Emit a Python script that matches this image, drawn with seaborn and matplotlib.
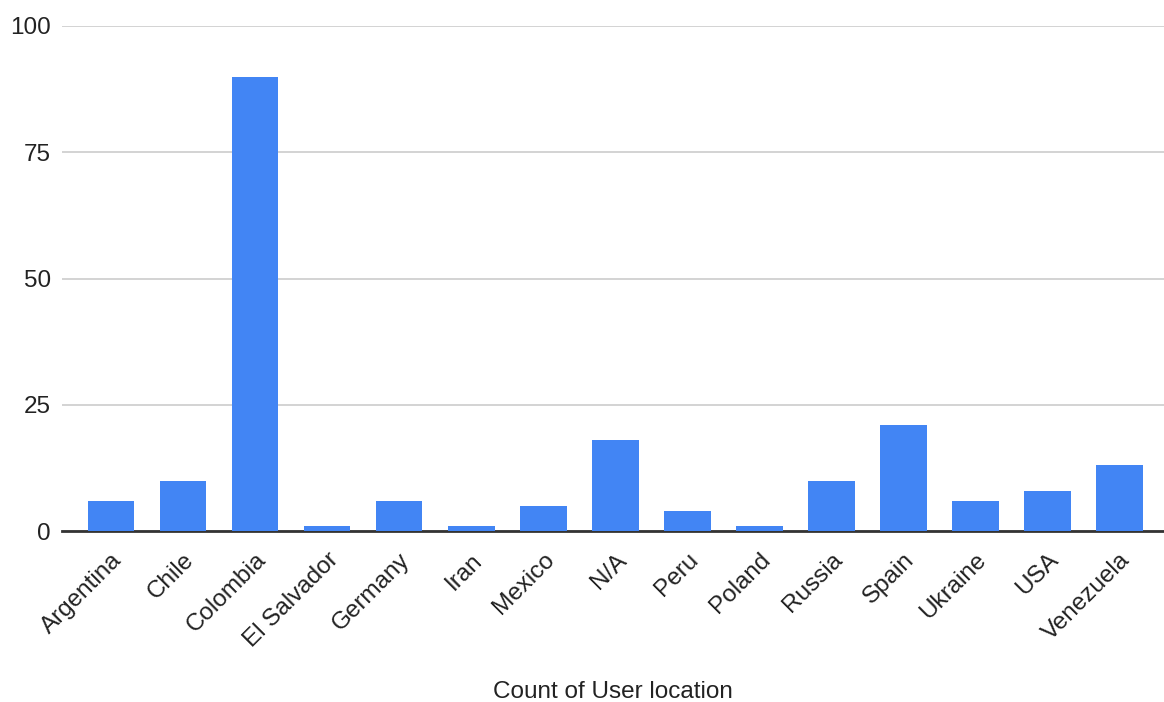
import matplotlib
matplotlib.use("Agg")
import matplotlib.pyplot as plt
import seaborn as sns
import pandas as pd

countries = ["Argentina", "Chile", "Colombia", "El Salvador", "Germany", "Iran",
             "Mexico", "N/A", "Peru", "Poland", "Russia", "Spain", "Ukraine",
             "USA", "Venezuela"]
counts = [6, 10, 90, 1, 6, 1, 5, 18, 4, 1, 10, 21, 6, 8, 13]
y_ticks = [0, 25, 50, 75, 100]

df = pd.DataFrame({"location": countries, "count": counts})

sns.set_theme(style="white")
plt.rcParams["font.family"] = ["Liberation Sans", "DejaVu Sans"]

fig = plt.figure(figsize=(11.64, 7.02), dpi=100)
ax = fig.add_axes([62 / 1164, 1 - 531 / 702, 1 - 62 / 1164, (531 - 26) / 702])

sns.barplot(data=df, x="location", y="count", color="#4285F4", width=0.65,
            saturation=1, linewidth=0, ax=ax, zorder=5)

ax.set_ylim(0, 100)
ax.set_xlim(-0.68, len(countries) - 0.38)
ax.set_yticks(y_ticks)
ax.set_yticklabels([str(v) for v in y_ticks], fontsize=17.5, color="#222222")
ax.yaxis.grid(True, color="#cccccc", linewidth=1.2, zorder=0)
ax.tick_params(axis="both", length=0)
ax.tick_params(axis="y", pad=8)

ax.set_xticks(range(len(countries)))
ax.set_xticklabels(countries, rotation=45, ha="right", rotation_mode="anchor",
                   fontsize=17.5, color="#222222")
ax.tick_params(axis="x", pad=13)

for side in ["top", "right", "left"]:
    ax.spines[side].set_visible(False)
ax.spines["bottom"].set_color("#333333")
ax.spines["bottom"].set_linewidth(2)
ax.spines["bottom"].set_zorder(2)

ax.set_ylabel("")
ax.set_xlabel("Count of User location", fontsize=17.5, color="#222222", labelpad=21)

fig.savefig("out.png", dpi=100, facecolor="white")
